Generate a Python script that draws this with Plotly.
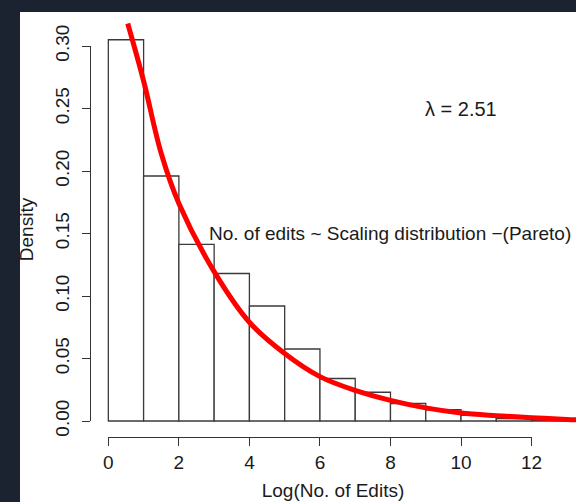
import plotly.graph_objects as go

# ---- data ----
bin_left = [0, 1, 2, 3, 4, 5, 6, 7, 8, 9, 10, 11, 12]
density = [0.305, 0.196, 0.1413, 0.118, 0.092, 0.0576, 0.034, 0.023, 0.014, 0.009, 0.0045, 0.002, 0.001]

curve_x = [0.55, 1, 1.5, 2, 3, 4, 5, 6, 7, 8, 9, 10, 11, 12, 13, 13.3]
curve_y = [0.318, 0.272, 0.214, 0.174, 0.1195, 0.079, 0.054, 0.0355, 0.0245,
           0.0165, 0.0105, 0.0064, 0.0043, 0.0027, 0.0013, 0.0010]

x_ticks = [0, 2, 4, 6, 8, 10, 12]
y_ticks = [0.00, 0.05, 0.10, 0.15, 0.20, 0.25, 0.30]
y_tick_labels = ["0.00", "0.05", "0.10", "0.15", "0.20", "0.25", "0.30"]

x_title = "Log(No. of Edits)"
y_title = "Density"
lambda_text = "λ = 2.51"
lambda_pos = (10, 0.25)
note_text = "No. of edits ~ Scaling distribution −(Pareto)"
note_pos = (8, 0.15)

# ---- axis configuration ----
x_range = [-0.52, 13.26]
y_range = [-0.0128, 0.3192]
x_axis_span = [0, 12]
y_axis_span = [0.0, 0.30]

FONT = "Liberation Sans, Arial, sans-serif"
TXT = "#1a1a1a"
AX = "#333333"
W, H = 576, 502
ML, MR, MT, MB = 90, 0, 22, 65


def frac(v, r):
    return (v - r[0]) / (r[1] - r[0])


fig = go.Figure()
fig.add_trace(go.Bar(
    x=bin_left, y=density, width=1, offset=0,
    marker=dict(color="white", line=dict(color="#3a3a3a", width=1.3)),
    showlegend=False, hoverinfo="skip"))
fig.add_trace(go.Scatter(
    x=curve_x, y=curve_y, mode="lines",
    line=dict(color="#ff0000", width=5, shape="spline"),
    showlegend=False, hoverinfo="skip"))
# empty trace to display the R-style axes on their own subplot
fig.add_trace(go.Scatter(x=[], y=[], xaxis="x2", yaxis="y2",
                         showlegend=False, hoverinfo="skip"))

pw = W - ML - MR
ph = H - MT - MB

fig.update_layout(
    width=W, height=H, autosize=False,
    margin=dict(l=ML, r=MR, t=MT, b=MB, pad=0, autoexpand=False),
    paper_bgcolor="#1b2230",
    plot_bgcolor="rgba(0,0,0,0)",
    font=dict(family=FONT, size=19, color=TXT),
    showlegend=False,
    xaxis=dict(domain=[0, 1], range=x_range, showticklabels=False, ticks="",
               showline=False, showgrid=False, zeroline=False, automargin=False,
               title=dict(text=x_title, standoff=46, font=dict(size=19, color=TXT))),
    yaxis=dict(domain=[0, 1], range=y_range, showticklabels=False, ticks="",
               showline=False, showgrid=False, zeroline=False, automargin=False,
               title=dict(text=y_title, standoff=50, font=dict(size=19, color=TXT))),
    xaxis2=dict(domain=[frac(x_axis_span[0], x_range), frac(x_axis_span[1], x_range)],
                range=x_axis_span, anchor="free", position=0, automargin=False,
                tickmode="array", tickvals=x_ticks, ticks="outside", ticklen=8,
                tickwidth=1.3, tickcolor=AX, showline=True, linecolor=AX, linewidth=1.3,
                showgrid=False, zeroline=False, tickfont=dict(size=19, color=TXT)),
    yaxis2=dict(domain=[frac(y_axis_span[0], y_range), frac(y_axis_span[1], y_range)],
                range=y_axis_span, anchor="free", position=0, automargin=False,
                tickmode="array", tickvals=y_ticks, ticktext=y_tick_labels,
                tickangle=-90, ticks="outside", ticklen=8, ticklabelstandoff=5,
                tickwidth=1.3, tickcolor=AX, showline=True, linecolor=AX, linewidth=1.3,
                showgrid=False, zeroline=False, tickfont=dict(size=19, color=TXT)),
    shapes=[dict(type="rect", xref="paper", yref="paper", layer="below",
                 x0=(20 - ML) / pw, x1=1.02, y0=-(MB + 5) / ph, y1=1 + (MT - 12) / ph,
                 fillcolor="white", line=dict(width=0))],
    annotations=[
        dict(x=lambda_pos[0], y=lambda_pos[1], xref="x", yref="y", text=lambda_text,
             showarrow=False, font=dict(size=20, color=TXT)),
        dict(x=note_pos[0], y=note_pos[1], xref="x", yref="y", text=note_text,
             showarrow=False, font=dict(size=19, color=TXT)),
    ],
)

fig.write_html("out.html",
               config={"displayModeBar": False, "responsive": False},
               post_script="document.body.style.margin='0px';"
                           "document.body.style.background='#1b2230';")
